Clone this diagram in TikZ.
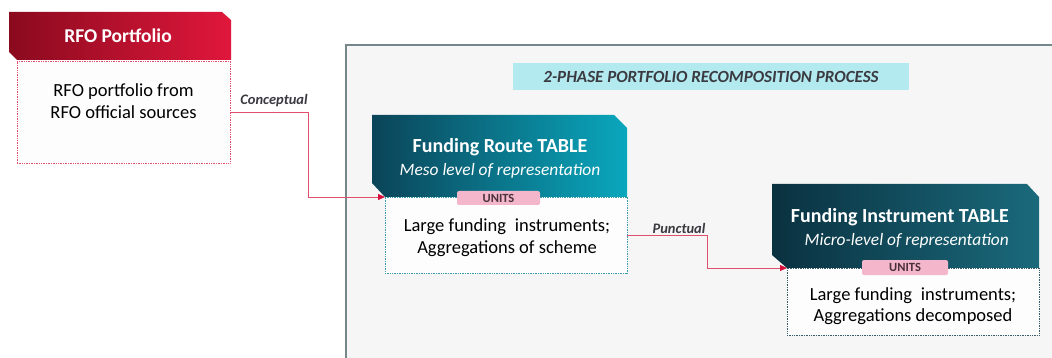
\documentclass[tikz,border=0pt]{standalone}
\usepackage{fontspec}
\setmainfont{Carlito}
\usetikzlibrary{arrows.meta}
\definecolor{panelbg}{HTML}{F6F6F6}
\definecolor{panelline}{HTML}{75878A}
\definecolor{titlefill}{HTML}{B2EAF0}
\definecolor{darktext}{HTML}{3A3A40}
\definecolor{unitstext}{HTML}{4A3038}
\definecolor{reddark}{HTML}{8A0A1E}
\definecolor{redlight}{HTML}{E0173C}
\definecolor{redline}{HTML}{E0506C}
\definecolor{redtip}{HTML}{D8123E}
\definecolor{tealdark}{HTML}{0B4458}
\definecolor{teallight}{HTML}{0AA7BD}
\definecolor{deepdark}{HTML}{0A3140}
\definecolor{deeplight}{HTML}{1A6A7C}
\definecolor{unitsfill}{HTML}{F3B6CA}
\definecolor{bodyfill}{HTML}{FDFDFD}
\definecolor{tealdot}{HTML}{3A9CAC}
\definecolor{deepdot}{HTML}{3A5C6A}
\begin{document}
\begin{tikzpicture}[x=1pt,y=-1pt,
  box/.style={inner sep=0pt, outer sep=0pt},
  hdrtext/.style={text=white, align=center, inner sep=0pt, font=\fontsize{17.4}{23}\selectfont},
  bodybox/.style={box, fill=bodyfill, densely dotted, line width=0.7pt},
  bodytext/.style={text=black, align=center, inner sep=0pt, font=\fontsize{18.5}{21.5}\selectfont},
  unitsbox/.style={box, fill=unitsfill, rounded corners=2pt, text=unitstext, font=\fontsize{12.5}{14}\selectfont\bfseries},
  conn/.style={redline, line width=0.8pt, -{Triangle[length=7pt,width=6pt,fill=redtip,color=redtip]}},
  connlabel/.style={text=darktext, inner sep=0pt, font=\fontsize{14.5}{16}\selectfont\bfseries\itshape}
]
\useasboundingbox (0,0) rectangle (1052,358);
\fill[white] (0,0) rectangle (1052,358);
% panel
\fill[panelbg] (346,45) rectangle (1052,358);
\draw[panelline, line width=1.8pt] (346,358) -- (346,45) -- (1052,45);
% title
\node[box, fill=titlefill, minimum width=396pt, minimum height=27pt, text=darktext,
  font=\fontsize{17}{19}\selectfont\bfseries\itshape] (title) at (711,76.5)
  {2-PHASE PORTFOLIO RECOMPOSITION PROCESS};

% RFO portfolio
\node[box, minimum width=222pt, minimum height=48pt] (rfoh) at (120,36) {};
\shade[left color=reddark, right color=redlight]
  (rfoh.north west) -- ([xshift=-9pt]rfoh.north east) -- ([yshift=-8pt]rfoh.north east)
  -- (rfoh.south east) -- ([xshift=8pt]rfoh.south west) -- ([yshift=8pt]rfoh.south west) -- cycle;
\node[hdrtext, font=\fontsize{19.5}{22}\selectfont\bfseries] (rfoht) at (118,36) {RFO Portfolio};
\node[bodybox, draw=redline, minimum width=213pt, minimum height=102pt] (rfob) at (123.5,112) {};
\node[bodytext, font=\fontsize{18.5}{22}\selectfont] (rfobt) at (123.5,101) {RFO portfolio from\\RFO official sources};

% Funding Route table
\node[box, minimum width=255pt, minimum height=82pt] (frh) at (499.5,156) {};
\shade[left color=tealdark, right color=teallight]
  (frh.north west) -- ([xshift=-13pt]frh.north east) -- ([yshift=-13pt]frh.north east)
  -- (frh.south east) -- ([xshift=13pt]frh.south west) -- ([yshift=14pt]frh.south west) -- cycle;
\node[hdrtext] (frht) at (500,158)
  {{\fontsize{20}{23}\selectfont\bfseries Funding Route TABLE}\\{\itshape Meso level of representation}};
\node[bodybox, draw=tealdot, minimum width=242pt, minimum height=76pt] (frb) at (506,235) {};
\node[bodytext] (frbt) at (507,237.5) {Large funding\hspace{0.25em} instruments;\\Aggregations of scheme};
\node[unitsbox, minimum width=83pt, minimum height=14pt] (fru) at (498.5,198) {UNITS};

% Funding Instrument table
\node[box, minimum width=267pt, minimum height=84pt] (fih) at (905.5,226) {};
\shade[left color=deepdark, right color=deeplight]
  (fih.north west) -- ([xshift=-12pt]fih.north east) -- ([yshift=-13pt]fih.north east)
  -- (fih.south east) -- ([xshift=15pt]fih.south west) -- ([yshift=13pt]fih.south west) -- cycle;
\node[hdrtext, align=right, anchor=east] (fiht) at (1009,228)
  {{\fontsize{20}{23}\selectfont\bfseries Funding Instrument TABLE}\\{\itshape Micro-level of representation}};
\node[bodybox, draw=deepdot, minimum width=252pt, minimum height=67pt] (fib) at (913,301.5) {};
\node[bodytext] (fibt) at (913,306) {Large funding\hspace{0.25em} instruments;\\Aggregations decomposed};
\node[unitsbox, minimum width=86pt, minimum height=15pt] (fiu) at (905,267.5) {UNITS};

% connectors
\draw[conn] (rfob.east) -| ([xshift=-77pt]frb.north west) -- (frb.north west);
\node[connlabel] (lconc) at (274,101) {Conceptual};
\draw[conn] (frb.east) -| ([xshift=-80pt]fib.north west) -- (fib.north west);
\node[connlabel] (lpunc) at (679,228) {Punctual};
\end{tikzpicture}
\end{document}
